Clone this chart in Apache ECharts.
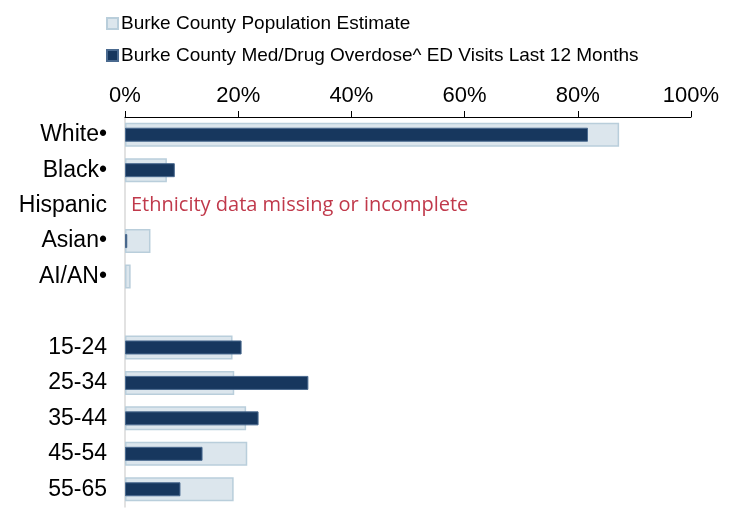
<!DOCTYPE html>
<html>
<head>
<meta charset="utf-8">
<script src="https://cdn.jsdelivr.net/npm/echarts@6/dist/echarts.min.js"></script>
<style>html,body{margin:0;padding:0;background:#fff}#c{width:729px;height:508px}</style>
</head>
<body>
<div id="c"></div>
<script>
const categories = ['White•','Black•','Hispanic','Asian•','AI/AN•','','15-24','25-34','35-44','45-54','55-65'];
const populationEstimate = [87.3, 7.4, null, 4.5, 1.0, null, 19.0, 19.3, 21.4, 21.6, 19.2];
const edVisits = [81.8, 8.8, 0, 0.4, null, null, 20.6, 32.4, 23.6, 13.7, 9.8];
const xTicks = [0, 20, 40, 60, 80, 100];
const annotation = 'Ethnicity data missing or incomplete';
const annotatedCategory = 'Hispanic';

const chart = echarts.init(document.getElementById('c'));
const yBase = {
  type: 'category', data: categories, inverse: true,
  axisTick: {show: false}
};
chart.setOption({
  animation: false,
  legend: {
    orient: 'vertical', left: 101, top: 9, itemWidth: 11, itemHeight: 11, itemGap: 13, icon: 'rect',
    textStyle: {fontFamily: 'Liberation Sans', fontSize: 19, color: '#000', padding: [0, 0, 0, -2]},
    data: ['Burke County Population Estimate', 'Burke County Med/Drug Overdose^ ED Visits Last 12 Months']
  },
  grid: {left: 125, right: 38, top: 117, bottom: 1},
  xAxis: {
    type: 'value', position: 'top', min: xTicks[0], max: xTicks[xTicks.length - 1], interval: 20,
    axisLine: {show: true, lineStyle: {color: '#000', width: 1}},
    axisTick: {show: true, length: 6, lineStyle: {color: '#000'}},
    splitLine: {show: false},
    axisLabel: {formatter: '{value}%', fontFamily: 'Liberation Sans', fontSize: 22, color: '#000', margin: 10}
  },
  yAxis: [
    Object.assign({}, yBase, {
      axisLine: {show: true, lineStyle: {color: '#d9d9d9', width: 1.5}},
      axisLabel: {fontFamily: 'Liberation Sans', fontSize: 23, color: '#000', margin: 18}
    }),
    Object.assign({}, yBase, {show: false})
  ],
  series: [
    {
      name: 'Burke County Population Estimate', type: 'bar', yAxisIndex: 0, barWidth: 24,
      itemStyle: {color: '#dce6ed', borderColor: '#b9cedb', borderWidth: 1.5},
      data: populationEstimate
    },
    {
      name: 'Burke County Med/Drug Overdose^ ED Visits Last 12 Months', type: 'bar', yAxisIndex: 1, barWidth: 14,
      itemStyle: {color: '#17375e', borderColor: '#4a6a8f', borderWidth: 1},
      data: edVisits.map((v, i) => categories[i] === annotatedCategory ? {
        value: v,
        itemStyle: {color: 'rgba(0,0,0,0)', borderWidth: 0},
        label: {show: true, position: 'right', distance: 6, formatter: annotation,
          fontFamily: 'Open Sans', fontSize: 20, color: '#c0394b'}
      } : v)
    }
  ]
});
</script>
</body>
</html>
